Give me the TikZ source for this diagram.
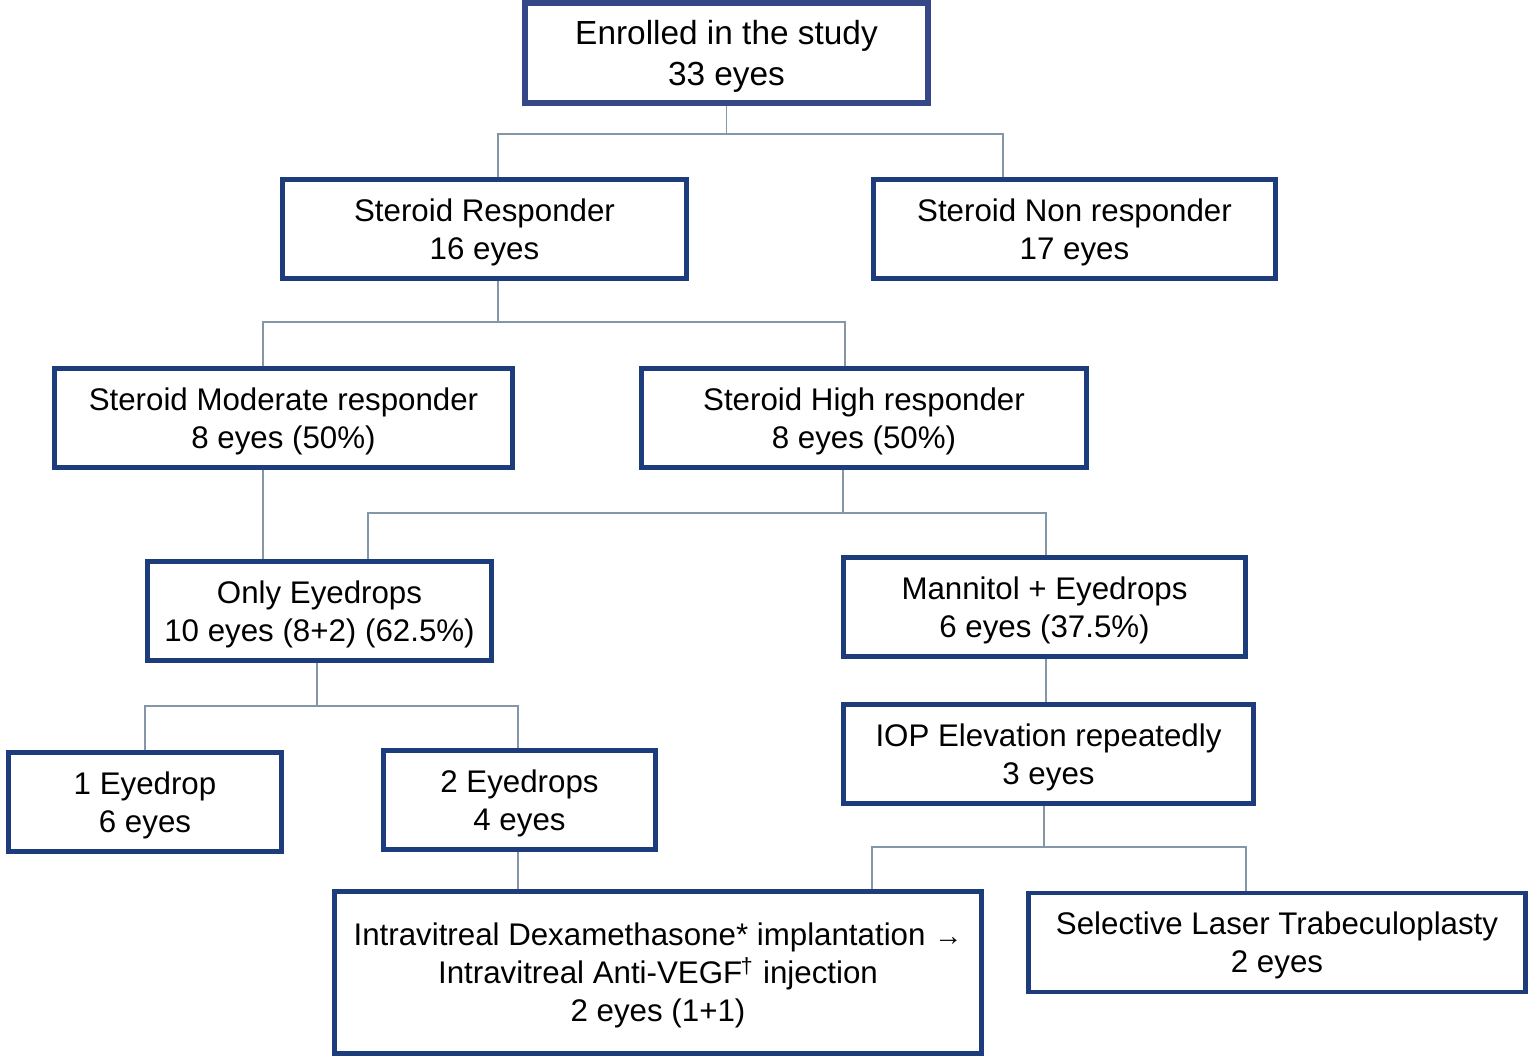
\documentclass[tikz,border=0pt]{standalone}
\usepackage{fontspec}
\setmainfont{Liberation Sans}
\usepackage{tikz}
\definecolor{boxblue}{HTML}{1C3C7C}
\definecolor{topblue}{HTML}{354786}
\definecolor{linkgray}{HTML}{8596A6}

\begin{document}
\begin{tikzpicture}[
    box/.style={draw=boxblue, line width=1.2pt, align=center, inner sep=0pt, text depth=0pt,
        minimum height=0.99cm, font=\fontsize{8.9}{10.8}\selectfont},
    link/.style={draw=linkgray, line width=0.5pt}
]
    \useasboundingbox (0,0) rectangle (15.36,10.59);

    % Draw the boxes
    \node[box, draw=topblue, line width=1.5pt, minimum width=4.03cm, minimum height=1.0cm,
        font=\fontsize{9.5}{11.6}\selectfont] (enrol) at (7.265,10.06) {Enrolled in the study\\33 eyes};
    \node[box, minimum width=4.04cm] (resp) at (4.845,8.30) {Steroid Responder\\16 eyes};
    \node[box, minimum width=4.02cm] (nonresp) at (10.745,8.30) {Steroid Non responder\\17 eyes};
    \node[box, minimum width=4.58cm] (mod) at (2.835,6.41) {Steroid Moderate responder\\8 eyes (50\%)};
    \node[box, minimum width=4.45cm] (high) at (8.64,6.41) {Steroid High responder\\8 eyes (50\%)};
    \node[box, minimum width=3.44cm] (only) at (3.195,4.48) {Only Eyedrops\\10 eyes (8+2) (62.5\%)};
    \node[box, minimum width=4.02cm] (mann) at (10.445,4.52) {Mannitol + Eyedrops\\6 eyes (37.5\%)};
    \node[box, minimum width=4.10cm] (iop) at (10.485,3.05) {IOP Elevation repeatedly\\3 eyes};
    \node[box, minimum width=2.73cm] (one) at (1.45,2.57) {1 Eyedrop\\6 eyes};
    \node[box, minimum width=2.72cm] (two) at (5.195,2.59) {2 Eyedrops\\4 eyes};
    \node[box, minimum width=6.47cm, minimum height=1.62cm] (ivt) at (6.58,0.865)
        {Intravitreal Dexamethasone* implantation {\footnotesize→}\\Intravitreal Anti-VEGF\textsuperscript{\kern-0.5pt\raisebox{-0.3ex}{†}} injection\\2 eyes (1+1)};
    \node[box, minimum width=4.97cm] (slt) at (12.77,1.165) {Selective Laser Trabeculoplasty\\2 eyes};

    % Branch points
    \coordinate (j1l) at (4.98,9.25);
    \coordinate (j1r) at (10.03,9.25);
    \coordinate (j2) at (4.98,7.37);
    \coordinate (j2l) at (2.63,7.37);
    \coordinate (j2r) at (8.45,7.37);
    \coordinate (j3) at (8.43,5.46);
    \coordinate (j3l) at (3.68,5.46);
    \coordinate (j3r) at (10.46,5.46);
    \coordinate (j4) at (3.17,3.53);
    \coordinate (j4l) at (1.45,3.53);
    \coordinate (j4r) at (5.18,3.53);
    \coordinate (j5) at (10.44,2.12);
    \coordinate (j5l) at (8.72,2.12);
    \coordinate (j5r) at (12.46,2.12);

    % Draw the connectors
    \draw[link] (enrol.south) -- (enrol.south |- j1l);
    \draw[link] (resp.north -| j1l) |- (j1r) -- (nonresp.north -| j1r);

    \draw[link] (resp.south -| j2) -- (j2);
    \draw[link] (mod.north -| j2l) |- (j2r) -- (high.north -| j2r);
    \draw[link] (mod.south -| j2l) -- (only.north -| j2l);

    \draw[link] (high.south -| j3) -- (j3);
    \draw[link] (only.north -| j3l) |- (j3r) -- (mann.north -| j3r);
    \draw[link] (mann.south -| j3r) -- (iop.north -| j3r);

    \draw[link] (only.south -| j4) -- (j4);
    \draw[link] (one.north -| j4l) |- (j4r) -- (two.north -| j4r);
    \draw[link] (two.south -| j4r) -- (ivt.north -| j4r);

    \draw[link] (iop.south -| j5) -- (j5);
    \draw[link] (ivt.north -| j5l) |- (j5r) -- (slt.north -| j5r);
\end{tikzpicture}
\end{document}
